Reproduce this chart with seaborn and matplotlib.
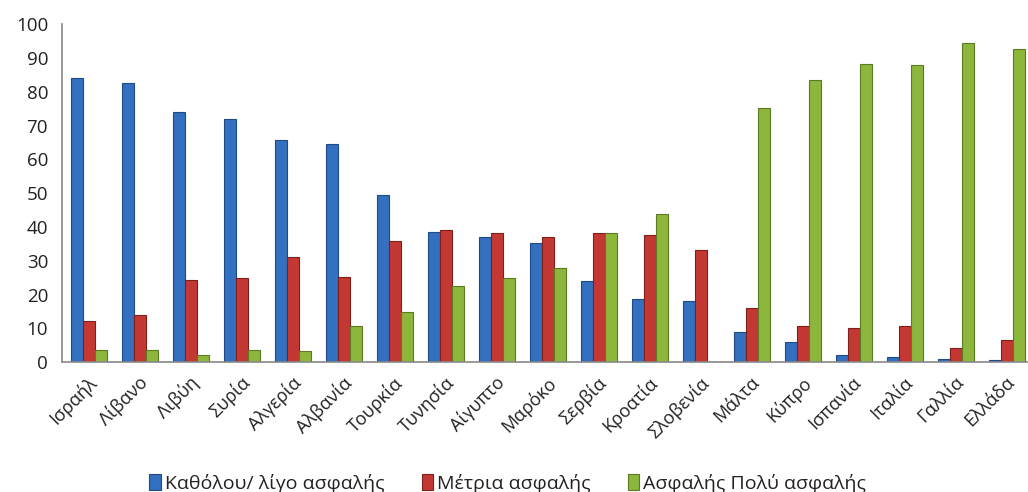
import matplotlib
matplotlib.use("Agg")
import matplotlib.pyplot as plt
import seaborn as sns
import pandas as pd
from matplotlib.patches import Patch

countries = ["Ισραήλ", "Λίβανο", "Λιβύη", "Συρία", "Αλγερία", "Αλβανία", "Τουρκία",
             "Τυνησία", "Αίγυπτο", "Μαρόκο", "Σερβία", "Κροατία", "Σλοβενία", "Μάλτα",
             "Κύπρο", "Ισπανία", "Ιταλία", "Γαλλία", "Ελλάδα"]
series_names = ["Καθόλου/ λίγο ασφαλής", "Μέτρια ασφαλής", "Ασφαλής Πολύ ασφαλής"]
not_safe = [84.1, 82.6, 74.1, 71.8, 65.7, 64.4, 49.4, 38.4, 36.9, 35.1, 23.9, 18.8, 18.0,
            9.0, 6.0, 2.0, 1.4, 1.0, 0.5]
moderate = [12.1, 13.9, 24.3, 24.9, 31.0, 25.2, 35.8, 39.0, 38.1, 36.9, 38.1, 37.5, 33.1,
            15.9, 10.7, 10.0, 10.7, 4.3, 6.5]
safe = [3.5, 3.5, 2.1, 3.5, 3.3, 10.6, 14.7, 22.5, 24.9, 27.8, 38.1, 43.9, 0.0,
        75.2, 83.6, 88.1, 88.0, 94.5, 92.7]
yticks = [0, 10, 20, 30, 40, 50, 60, 70, 80, 90, 100]

colors = ["#3470C0", "#C43834", "#8CB63C"]
edges = ["#1F4A85", "#7E1F1C", "#5C7A22"]

df = pd.DataFrame({
    "country": countries * 3,
    "series": [series_names[0]] * 19 + [series_names[1]] * 19 + [series_names[2]] * 19,
    "value": not_safe + moderate + safe,
})

sns.set_style("white")
plt.rcParams["font.family"] = ["Open Sans", "DejaVu Sans"]

fig = plt.figure(figsize=(10.28, 4.92), dpi=100)
ax = fig.add_axes([0.0603, 0.264, 0.9426, 0.687])

sns.barplot(data=df, x="country", y="value", hue="series", order=countries,
            hue_order=series_names, palette=colors, width=0.71, ax=ax,
            legend=False, saturation=1, linewidth=0.8)

for cont, ec in zip(ax.containers, edges):
    for p in cont:
        p.set_edgecolor(ec)
        p.set_x(p.get_x() + 0.03)

ax.set_ylim(0, 100)
ax.set_xlim(-0.5, 18.5)
ax.set_yticks(yticks)
ax.set_yticklabels([str(t) for t in yticks], fontsize=13.5, color="#222222")
ax.set_xlabel("")
ax.set_ylabel("")

ax.set_xticks(range(len(countries)))
ax.set_xticklabels(countries, rotation=45, ha="right", rotation_mode="anchor",
                   fontsize=13, color="#222222")
ax.tick_params(axis="x", length=0, pad=8)
ax.set_xticks([i - 0.5 for i in range(len(countries) + 1)], minor=True)
ax.tick_params(axis="x", which="minor", length=6, width=1.2, color="#888888", direction="out")
ax.tick_params(axis="y", length=6, width=1.2, color="#888888", direction="out", pad=4)

for s in ["top", "right"]:
    ax.spines[s].set_visible(False)
for s in ["left", "bottom"]:
    ax.spines[s].set_color("#888888")
    ax.spines[s].set_linewidth(1.2)

handles = [Patch(facecolor=c, edgecolor=e, linewidth=0.8) for c, e in zip(colors, edges)]
fig.legend(handles, series_names, loc="center", bbox_to_anchor=(0.494, 0.018),
           ncol=3, frameon=False, fontsize=14, handlelength=0.6, handleheight=0.9,
           handletextpad=0.2, columnspacing=1.9, labelcolor="#222222")

fig.savefig("out.png", dpi=100)
